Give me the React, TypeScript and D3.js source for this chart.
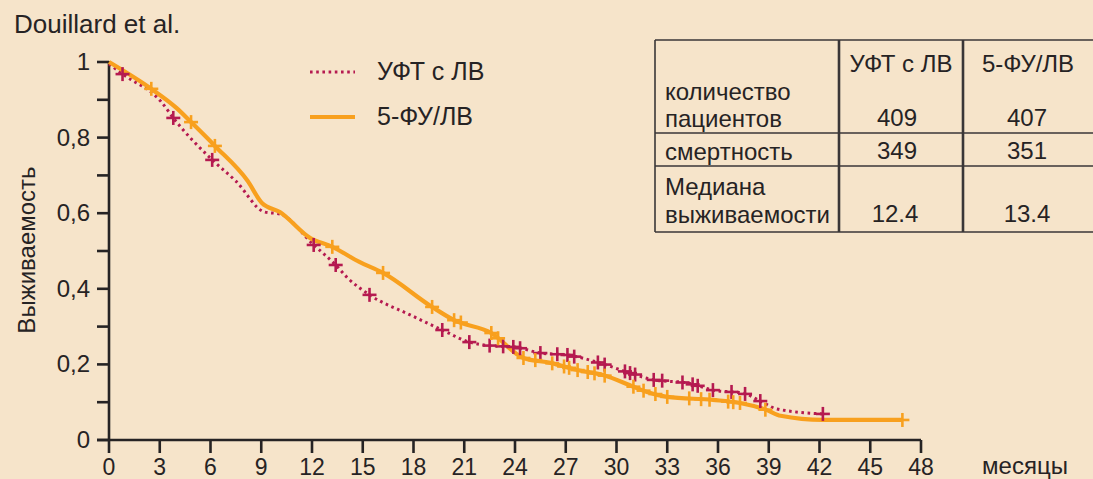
import React from 'react';
import * as d3 from 'd3';

// UFT + LV (dotted crimson)
const uftMonths = [0, 0.8, 3.1, 3.8, 6.1, 7.5, 9.2, 10.1, 12.1, 13.4, 14.1, 15.4, 17.8, 19.7, 21.3, 22.4, 24.0, 25.5, 27.1, 29.0, 30.8, 32.2, 34.2, 35.7, 37.5, 38.5, 39.5, 42.2];
const uftSurv = [0.995, 0.968, 0.894, 0.852, 0.741, 0.685, 0.603, 0.598, 0.516, 0.463, 0.429, 0.384, 0.331, 0.291, 0.259, 0.25, 0.246, 0.23, 0.225, 0.204, 0.177, 0.159, 0.151, 0.132, 0.124, 0.103, 0.082, 0.069];
const uftCensor = [0.8, 3.8, 6.1, 12.1, 13.4, 15.4, 19.7, 21.3, 22.5, 23.3, 23.9, 24.3, 25.5, 26.5, 27.1, 27.5, 28.9, 29.3, 30.5, 30.8, 31.1, 32.2, 32.7, 33.9, 34.5, 34.8, 35.7, 36.8, 37.6, 38.5, 42.2];

// 5-FU/LV (solid orange)
const fuMonths = [0, 2.5, 4.0, 4.85, 6.26, 8.2, 9.04, 10.1, 11.9, 13.2, 14.8, 16.2, 19.1, 20.4, 22.6, 24.5, 26.1, 27.7, 29.2, 31.0, 31.8, 33.0, 35.7, 37.3, 38.9, 39.7, 42.2, 46.9];
const fuSurv = [1.0, 0.929, 0.878, 0.841, 0.778, 0.685, 0.627, 0.603, 0.534, 0.511, 0.471, 0.442, 0.352, 0.317, 0.283, 0.217, 0.204, 0.185, 0.172, 0.141, 0.127, 0.114, 0.106, 0.098, 0.079, 0.064, 0.053, 0.053];
const fuCensor = [2.5, 4.85, 6.26, 13.2, 16.2, 19.1, 20.4, 20.8, 22.6, 23.0, 24.5, 25.2, 26.2, 26.9, 27.2, 27.7, 28.3, 28.7, 29.3, 31.0, 31.6, 32.3, 33.0, 34.3, 35.0, 35.5, 36.6, 36.9, 37.3, 38.8, 46.9];

const xTicks = d3.range(0, 49, 3);
const yMajor = [0, 0.2, 0.4, 0.6, 0.8, 1];
const yMinor = [0.1, 0.3, 0.5, 0.7, 0.9];
const yLabels = ['0', '0,2', '0,4', '0,6', '0,8', '1'];

const legendNames = ['УФТ с ЛВ', '5-ФУ/ЛВ'];
const tableHeader = ['УФТ с ЛВ', '5-ФУ/ЛВ'];
const tableRows = [
  { label: ['количество', 'пациентов'], uft: '409', fu: '407' },
  { label: ['смертность'], uft: '349', fu: '351' },
  { label: ['Медиана', 'выживаемости'], uft: '12.4', fu: '13.4' },
];

const W = 1093;
const H = 479;
const BG = '#F6E4CA';
const INK = '#262324';
const ORANGE = '#F8A01E';
const CRIMSON = '#B51A50';
const FONT = '"Liberation Sans", Arial, Helvetica, sans-serif';

export default function App() {
  const x = d3.scaleLinear().domain([0, 48]).range([109, 921]);
  const y = d3.scaleLinear().domain([0, 1]).range([440, 62]);

  const line = d3.line<[number, number]>()
    .x(d => x(d[0]))
    .y(d => y(d[1]))
    .curve(d3.curveMonotoneX);

  const uftPts = uftMonths.map((m, i) => [m, uftSurv[i]] as [number, number]);
  const fuPts = fuMonths.map((m, i) => [m, fuSurv[i]] as [number, number]);
  const uftAt = d3.scaleLinear().domain(uftMonths).range(uftSurv).clamp(true);
  const fuAt = d3.scaleLinear().domain(fuMonths).range(fuSurv).clamp(true);

  const cross = (cx: number, cy: number, color: string, key: string) => (
    <g key={key} stroke={color} strokeWidth={2.6}>
      <line x1={cx - 7} x2={cx + 7} y1={cy} y2={cy} />
      <line x1={cx} x2={cx} y1={cy - 7} y2={cy + 7} />
    </g>
  );

  // table layout
  const tL = 655, tC1 = 839, tC2 = 963, tR = 1100;
  const tTop = 40, tBottom = 232;
  const hLines = [tTop, 133, 166, tBottom];

  return (
    <svg width={W} height={H} style={{ position: 'absolute', left: 0, top: 0 }} fontFamily={FONT}>
      <rect width={W} height={H} fill={BG} />

      <text x={14} y={33} fontSize={26} fill={INK}>Douillard et al.</text>

      {/* axes */}
      <g stroke={INK} strokeWidth={2.6}>
        <line x1={x(0)} x2={x(0)} y1={y(1) - 1} y2={y(0)} />
        <line x1={97} x2={x(48)} y1={y(0)} y2={y(0)} />
        {yMajor.concat(yMinor).map(v => (
          <line key={'yt' + v} x1={97} x2={x(0)} y1={y(v)} y2={y(v)} />
        ))}
        {xTicks.map(t => (
          <line key={'xt' + t} x1={x(t)} x2={x(t)} y1={y(0)} y2={y(0) + 13} />
        ))}
      </g>
      {yMajor.map((v, i) => (
        <text key={'yl' + v} x={90} y={y(v) + 8} fontSize={24} textAnchor="end" fill={INK}>{yLabels[i]}</text>
      ))}
      {xTicks.map(t => (
        <text key={'xl' + t} x={x(t)} y={475} fontSize={23} textAnchor="middle" fill={INK}>{t}</text>
      ))}
      <text x={1025} y={474} fontSize={24} textAnchor="middle" fill={INK}>месяцы</text>
      <text transform={`translate(35, 250) rotate(-90)`} fontSize={24} textAnchor="middle" fill={INK}>Выживаемость</text>

      {/* curves */}
      <path d={line(uftPts) || ''} fill="none" stroke={CRIMSON} strokeWidth={3} strokeDasharray="2.6 3.6" />
      <path d={line(fuPts) || ''} fill="none" stroke={ORANGE} strokeWidth={4.2} />
      {uftCensor.map((t, i) => cross(x(t), y(uftAt(t)), CRIMSON, 'uc' + i))}
      {fuCensor.map((t, i) => cross(x(t), y(fuAt(t)), ORANGE, 'fc' + i))}

      {/* legend */}
      <line x1={310} x2={355} y1={72} y2={72} stroke={CRIMSON} strokeWidth={3} strokeDasharray="2.6 3.6" />
      <text x={377} y={80} fontSize={25} fill={INK}>{legendNames[0]}</text>
      <line x1={310} x2={355} y1={117} y2={117} stroke={ORANGE} strokeWidth={4.2} />
      <text x={377} y={125} fontSize={25} fill={INK}>{legendNames[1]}</text>

      {/* table */}
      <g stroke="#3A3637">
        {hLines.map(yy => (
          <line key={'h' + yy} x1={tL} x2={tR} y1={yy} y2={yy} strokeWidth={1.6} />
        ))}
        <line x1={tL} x2={tL} y1={tTop} y2={tBottom} strokeWidth={1.6} />
        <line x1={tC1} x2={tC1} y1={tTop} y2={tBottom} strokeWidth={2.6} />
        <line x1={tC2} x2={tC2} y1={tTop} y2={tBottom} strokeWidth={2.6} />
      </g>
      <g fontSize={24} fill={INK}>
        <text x={(tC1 + tC2) / 2} y={72} textAnchor="middle">{tableHeader[0]}</text>
        <text x={1028} y={72} textAnchor="middle">{tableHeader[1]}</text>

        <text x={665} y={100}>{tableRows[0].label[0]}</text>
        <text x={665} y={127}>{tableRows[0].label[1]}</text>
        <text x={897} y={126} textAnchor="middle">{tableRows[0].uft}</text>
        <text x={1027} y={126} textAnchor="middle">{tableRows[0].fu}</text>

        <text x={665} y={160}>{tableRows[1].label[0]}</text>
        <text x={897} y={159} textAnchor="middle">{tableRows[1].uft}</text>
        <text x={1027} y={159} textAnchor="middle">{tableRows[1].fu}</text>

        <text x={665} y={195}>{tableRows[2].label[0]}</text>
        <text x={665} y={223}>{tableRows[2].label[1]}</text>
        <text x={895} y={222} textAnchor="middle">{tableRows[2].uft}</text>
        <text x={1027} y={222} textAnchor="middle">{tableRows[2].fu}</text>
      </g>
    </svg>
  );
}
